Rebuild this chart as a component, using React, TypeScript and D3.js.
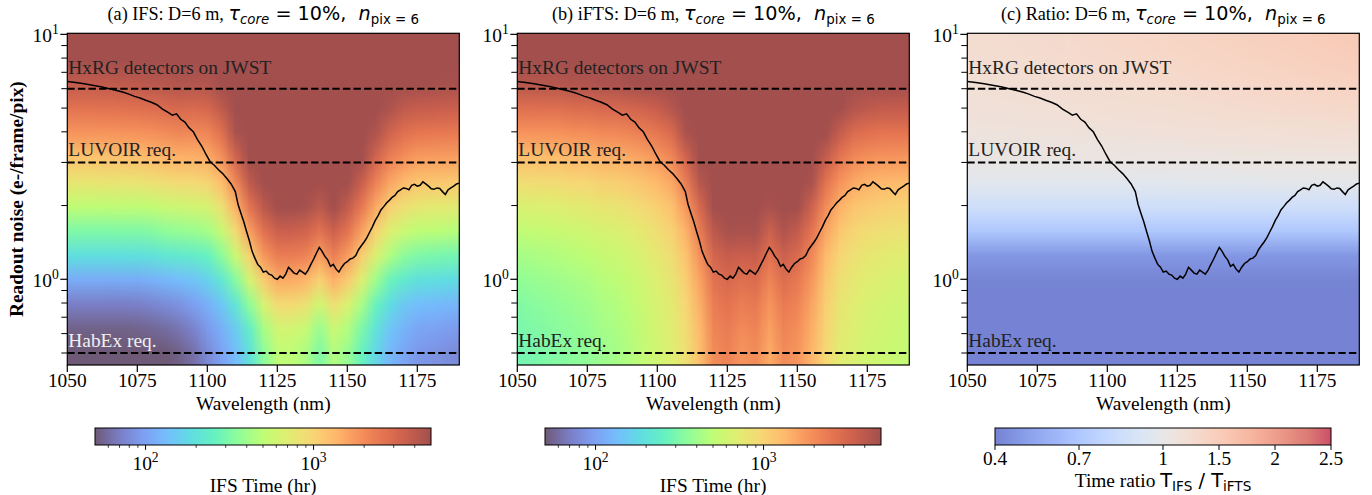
import React, { useMemo } from 'react';
import * as d3 from 'd3';

// ---------------- DATA ----------------
const WAVELENGTH_GRID = [1050, 1055, 1060, 1065, 1070, 1075, 1080, 1085, 1090, 1095, 1100, 1105, 1110, 1115, 1120, 1125, 1130, 1135, 1140, 1145, 1150, 1155, 1160, 1165, 1170, 1175, 1180, 1185, 1190];
const NOISE_GRID = [0.5, 0.63, 0.79, 1.0, 1.26, 1.58, 2.0, 2.51, 3.16, 3.98, 5.01, 6.31, 7.94, 10.0];

// IFS exposure time (hr), one row per wavelength, values along NOISE_GRID
const IFS_TIME = [
  [45, 54, 70, 110, 190, 316, 500, 795, 1200, 1820, 2630, 3800, 5200, 7000],
  [45, 54, 70, 110, 190, 316, 500, 795, 1200, 1820, 2630, 3800, 5200, 7000],
  [45, 54, 70, 110, 190, 316, 500, 795, 1200, 1820, 2630, 3800, 5200, 7000],
  [45, 54, 70, 110, 190, 318, 505, 800, 1210, 1830, 2650, 3830, 5250, 7050],
  [45, 54, 70, 111, 192, 320, 508, 810, 1230, 1850, 2700, 3900, 5300, 7100],
  [46, 55, 72, 112, 195, 320, 505, 810, 1240, 1860, 2720, 3950, 5400, 7300],
  [48, 57, 75, 118, 200, 330, 520, 850, 1320, 1900, 2830, 4100, 5800, 8000],
  [50, 60, 80, 125, 215, 360, 565, 890, 1370, 2000, 2950, 4200, 6000, 8000],
  [54, 65, 86, 132, 224, 375, 585, 930, 1420, 2100, 3050, 4350, 6200, 8000],
  [62, 74, 97, 143, 236, 385, 605, 940, 1430, 2050, 2950, 4300, 6000, 8000],
  [79, 92, 116, 165, 260, 420, 640, 1000, 1500, 2130, 3100, 4300, 6000, 8000],
  [100, 116, 148, 215, 347, 550, 850, 1290, 1900, 2700, 3900, 5400, 8000, 9000],
  [132, 155, 210, 335, 565, 910, 1440, 2130, 3250, 4640, 6900, 9000, 10000, 11000],
  [200, 245, 360, 620, 1030, 1700, 2630, 3970, 6000, 8000, 10000, 12000, 14000, 16000],
  [347, 425, 630, 1080, 1780, 2700, 4000, 6300, 8000, 10000, 12000, 14000, 16000, 18000],
  [500, 610, 920, 1510, 2350, 3470, 5000, 7000, 9000, 11000, 13000, 15000, 17000, 19000],
  [500, 610, 920, 1510, 2350, 3470, 5000, 7000, 9000, 11000, 13000, 15000, 17000, 19000],
  [440, 535, 830, 1370, 2200, 3300, 4800, 6800, 8800, 11000, 13000, 15000, 17000, 19000],
  [316, 385, 585, 1030, 1690, 2650, 4000, 6000, 8000, 10000, 12000, 14000, 16000, 18000],
  [457, 560, 860, 1440, 2290, 3440, 5000, 7000, 9000, 11000, 13000, 15000, 17000, 19000],
  [380, 460, 660, 1100, 1710, 2620, 3800, 5600, 8000, 10000, 12000, 14000, 16000, 18000],
  [263, 310, 430, 690, 1080, 1660, 2470, 3560, 5000, 7000, 8500, 10000, 12000, 14000],
  [174, 204, 265, 405, 670, 1010, 1540, 2250, 3250, 4500, 6500, 8000, 9500, 11000],
  [126, 145, 187, 272, 450, 690, 1040, 1600, 2290, 3300, 4550, 6500, 8000, 9000],
  [105, 120, 150, 223, 355, 565, 870, 1320, 1930, 2740, 3900, 5400, 7500, 8500],
  [91, 105, 135, 195, 316, 500, 775, 1180, 1720, 2510, 3650, 5000, 7000, 8500],
  [87, 100, 130, 190, 305, 490, 760, 1160, 1700, 2470, 3600, 4900, 6800, 8400],
  [83, 96, 126, 185, 298, 480, 745, 1140, 1680, 2440, 3550, 4800, 6700, 8300],
  [79, 92, 122, 180, 290, 470, 730, 1120, 1660, 2420, 3500, 4750, 6600, 8200],
];

// iFTS exposure time (hr)
const IFTS_TIME = [
  [288, 302, 325, 362, 420, 511, 657, 887, 1250, 1830, 2750, 4200, 6500, 10000],
  [302, 316, 339, 376, 433, 525, 670, 900, 1260, 1840, 2750, 4200, 6500, 10000],
  [316, 330, 353, 390, 447, 538, 683, 912, 1280, 1850, 2760, 4200, 6500, 10000],
  [331, 346, 368, 405, 462, 553, 697, 925, 1290, 1860, 2770, 4210, 6500, 10000],
  [347, 362, 386, 424, 484, 579, 729, 968, 1350, 1940, 2890, 4400, 6800, 10500],
  [363, 378, 402, 440, 499, 594, 744, 981, 1360, 1950, 2900, 4400, 6800, 10500],
  [398, 414, 438, 477, 539, 638, 793, 1040, 1430, 2050, 3030, 4590, 7050, 11000],
  [417, 433, 457, 496, 558, 656, 811, 1060, 1450, 2060, 3040, 4590, 7050, 11000],
  [457, 473, 499, 539, 603, 705, 866, 1120, 1530, 2170, 3180, 4790, 7350, 11400],
  [525, 542, 568, 610, 676, 781, 947, 1210, 1630, 2290, 3340, 5000, 7630, 11800],
  [600, 618, 647, 692, 763, 876, 1060, 1340, 1790, 2510, 3640, 5430, 8270, 12800],
  [692, 713, 747, 800, 884, 1020, 1230, 1560, 2090, 2940, 4270, 6380, 9730, 15000],
  [870, 906, 962, 1050, 1190, 1420, 1770, 2330, 3220, 4630, 6860, 10400, 16000, 24900],
  [1260, 1330, 1450, 1620, 1910, 2360, 3070, 4210, 6000, 8850, 13400, 20500, 31800, 49800],
  [2000, 2130, 2340, 2670, 3190, 4010, 5310, 7380, 10700, 15900, 24100, 37100, 57800, 90500],
  [2190, 2360, 2620, 3030, 3690, 4730, 6380, 9000, 13200, 19700, 30100, 46700, 72800, 114000],
  [1820, 2010, 2310, 2770, 3520, 4700, 6570, 9530, 14200, 21700, 33500, 52100, 81800, 128700],
  [2000, 2180, 2460, 2900, 3600, 4710, 6480, 9270, 13700, 20700, 31800, 49500, 77400, 121700],
  [1510, 1640, 1830, 2150, 2640, 3430, 4670, 6640, 9770, 14700, 22600, 35000, 54700, 86000],
  [2000, 2160, 2410, 2810, 3450, 4450, 6040, 8560, 12600, 18900, 28900, 44800, 70100, 110000],
  [1820, 1950, 2150, 2460, 2960, 3750, 5000, 6990, 10100, 15100, 23000, 35500, 55400, 86900],
  [1380, 1460, 1590, 1790, 2100, 2610, 3410, 4670, 6670, 9850, 14900, 22900, 35500, 55500],
  [955, 997, 1060, 1170, 1330, 1600, 2010, 2680, 3720, 5380, 8020, 12200, 18800, 29300],
  [725, 753, 797, 866, 976, 1150, 1430, 1860, 2560, 3660, 5400, 8160, 12500, 19500],
  [660, 682, 715, 769, 853, 988, 1200, 1540, 2070, 2920, 4260, 6390, 9770, 15100],
  [600, 620, 651, 700, 779, 903, 1100, 1410, 1910, 2690, 3930, 5900, 9020, 14000],
  [575, 594, 624, 671, 746, 865, 1050, 1350, 1830, 2580, 3770, 5660, 8650, 13400],
  [550, 569, 599, 647, 722, 842, 1030, 1330, 1810, 2570, 3760, 5660, 8670, 13400],
  [525, 544, 574, 622, 698, 819, 1010, 1310, 1790, 2550, 3760, 5660, 8690, 13500],
];

// Time ratio T_IFS / T_iFTS on a coarser wavelength grid
const RATIO_WAVELENGTHS = [1050, 1085, 1120, 1155, 1190];
const TIME_RATIO = [
  [0.38, 0.38, 0.39, 0.41, 0.48, 0.70, 0.86, 0.97, 1.05, 1.11, 1.16, 1.20, 1.23, 1.25],
  [0.38, 0.38, 0.39, 0.41, 0.48, 0.70, 0.86, 0.97, 1.06, 1.13, 1.19, 1.24, 1.28, 1.30],
  [0.38, 0.38, 0.39, 0.41, 0.48, 0.70, 0.86, 0.97, 1.07, 1.16, 1.23, 1.29, 1.34, 1.37],
  [0.38, 0.38, 0.39, 0.41, 0.48, 0.70, 0.86, 0.98, 1.09, 1.19, 1.28, 1.35, 1.41, 1.45],
  [0.38, 0.38, 0.39, 0.41, 0.48, 0.70, 0.86, 0.98, 1.10, 1.22, 1.33, 1.42, 1.49, 1.54],
];

// Black curve
const CURVE_WL = [1050, 1053, 1056, 1059, 1062, 1065, 1068, 1070, 1072, 1074, 1076, 1078, 1080, 1082, 1084, 1086, 1087.5, 1089, 1090.5, 1092, 1093.5, 1095, 1096.5, 1098, 1099.5, 1101, 1102.5, 1104, 1105.5, 1107, 1108.5, 1110, 1111, 1112, 1113, 1114, 1115, 1116, 1117, 1118, 1119, 1120, 1121, 1122, 1123, 1124, 1125, 1126, 1127, 1128, 1129, 1130, 1131, 1132, 1133, 1134, 1135, 1136, 1137, 1138, 1139, 1140, 1141, 1142, 1143, 1144, 1145, 1146, 1147, 1148, 1149, 1150, 1151, 1152, 1153, 1154, 1155, 1156, 1157, 1158, 1159, 1160, 1161, 1162, 1163, 1164, 1165, 1166, 1167, 1168, 1169, 1170, 1171, 1172, 1173, 1174, 1175, 1176, 1177, 1178, 1179, 1180, 1181, 1182, 1183, 1184, 1185, 1186, 1187, 1188, 1189, 1190];
const CURVE_NOISE = [6.42, 6.36, 6.28, 6.2, 6.11, 6.0, 5.89, 5.8, 5.7, 5.58, 5.5, 5.38, 5.28, 5.16, 4.95, 4.8, 4.68, 4.74, 4.5, 4.38, 4.15, 4.0, 3.72, 3.5, 3.24, 3.02, 2.92, 2.8, 2.7, 2.58, 2.45, 2.28, 2.02, 1.86, 1.72, 1.57, 1.44, 1.3, 1.22, 1.15, 1.12, 1.07, 1.08, 1.05, 1.04, 1.01, 1.0, 1.03, 1.01, 1.05, 1.12, 1.09, 1.06, 1.05, 1.09, 1.07, 1.05, 1.09, 1.15, 1.21, 1.28, 1.35, 1.3, 1.24, 1.2, 1.13, 1.15, 1.1, 1.07, 1.12, 1.16, 1.18, 1.21, 1.22, 1.25, 1.32, 1.37, 1.42, 1.48, 1.56, 1.64, 1.74, 1.82, 1.92, 1.98, 2.05, 2.1, 2.16, 2.2, 2.28, 2.32, 2.36, 2.35, 2.32, 2.42, 2.44, 2.4, 2.42, 2.5, 2.45, 2.4, 2.34, 2.33, 2.36, 2.35, 2.28, 2.22, 2.32, 2.36, 2.4, 2.45, 2.47];

const REQ_LABELS = ['HxRG detectors on JWST', 'LUVOIR req.', 'HabEx req.'];
const REQ_NOISE = [6, 3, 0.5];
const REQ_LABEL_NOISE = [6.87, 3.2, 0.527];

const X_TICKS = [1050, 1075, 1100, 1125, 1150, 1175];
const Y_MAJOR = [1, 10];
const Y_MAJOR_EXP = ['0', '1'];
const Y_MINOR = [0.5, 0.6, 0.7, 0.8, 0.9, 2, 3, 4, 5, 6, 7, 8, 9];

const TIME_CB_MAJOR = [100, 1000];
const TIME_CB_MAJOR_EXP = ['2', '3'];
const TIME_CB_MINOR = [60, 70, 80, 90, 200, 300, 400, 500, 600, 700, 800, 900, 2000, 3000, 4000];
const RATIO_CB_TICKS = [0.4, 0.7, 1, 1.5, 2, 2.5];
const RATIO_CB_LABELS = ['0.4', '0.7', '1', '1.5', '2', '2.5'];

const PANEL_PREFIX = ['(a) IFS: D=6 m, ', '(b) iFTS: D=6 m, ', '(c) Ratio: D=6 m, '];

// ---------------- STYLE / LAYOUT ----------------
const W = 1372;
const H = 495;
const LEFTS = [67.3, 517.3, 967.3];
const PW = 392;
const TOP = 33.3;
const BOTTOM = 365;
const SERIF = 'Liberation Serif, Times New Roman, serif';
const SANS = 'DejaVu Sans, sans-serif';
const FS = 19.4;
const TITLE_SERIF_FS = 18.2;
const TITLE_MATH_FS = 19.2;
const TITLE_SUB_FS = 13.4;
const REQ_TEXT_COLOR = [['#222', '#222', '#f0f0f0'], ['#222', '#222', '#222'], ['#222', '#222', '#222']];

// turbo key colors (matplotlib)
const TURBO = ['#30123b', '#4145ab', '#4675ed', '#39a2fc', '#1bcfd4', '#24eca6', '#61fc6c', '#a4fc3b', '#d1e834', '#f3c63a', '#fe9b2d', '#f36315', '#d93806', '#b11901', '#7a0402'];
// coolwarm key colors (matplotlib)
const COOLWARM = ['#3b4cc0', '#4d68d7', '#6282ea', '#779af7', '#8db0fe', '#a3c2fe', '#b8d0f9', '#cbdaf0', '#dddddd', '#ecd3c5', '#f4c4ad', '#f7b194', '#f49a7b', '#ec7f63', '#de604d', '#cb3e38', '#b40426'];

const blend = (c: string) => {
  const r = d3.rgb(c);
  return d3.rgb(0.7 * r.r + 0.3 * 255, 0.7 * r.g + 0.3 * 255, 0.7 * r.b + 0.3 * 255);
};

const turboScale = d3.scaleLinear<string>()
  .domain(TURBO.map((_, i) => i / (TURBO.length - 1)))
  .range(TURBO)
  .interpolate(d3.interpolateRgb)
  .clamp(true);
const timeNorm = d3.scaleLog().domain([50, 5000]).range([0, 1]).clamp(true);
const turboColor = (t: number) => blend(turboScale(t));
const timeColor = (v: number) => turboColor(timeNorm(v));

const coolwarmScale = d3.scaleLinear<string>()
  .domain(COOLWARM.map((_, i) => i / (COOLWARM.length - 1)))
  .range(COOLWARM)
  .interpolate(d3.interpolateRgb)
  .clamp(true);
const ratioNorm = d3.scaleLinear().domain([0.4, 1, 2.5]).range([0, 0.5, 1]).clamp(true);
const coolColor = (n: number) => blend(coolwarmScale(n));
const ratioColor = (v: number) => coolColor(ratioNorm(v));

function HeatImage({ grid, wl, noise, colorFn, x, y }: any) {
  const href = useMemo(() => {
    const nx = wl.length;
    const ny = noise.length;
    const canvas = document.createElement('canvas');
    canvas.width = nx;
    canvas.height = ny;
    const ctx = canvas.getContext('2d')!;
    const img = ctx.createImageData(nx, ny);
    for (let i = 0; i < nx; i++) {
      for (let j = 0; j < ny; j++) {
        const c = colorFn(grid[i][ny - 1 - j]);
        const idx = (j * nx + i) * 4;
        img.data[idx] = Math.round(c.r);
        img.data[idx + 1] = Math.round(c.g);
        img.data[idx + 2] = Math.round(c.b);
        img.data[idx + 3] = 255;
      }
    }
    ctx.putImageData(img, 0, 0);
    return canvas.toDataURL();
  }, [grid, wl, noise, colorFn]);
  const dx = wl[1] - wl[0];
  const x0 = x(wl[0] - dx / 2);
  const x1 = x(wl[wl.length - 1] + dx / 2);
  const lr0 = Math.log10(noise[0]);
  const lr1 = Math.log10(noise[noise.length - 1]);
  const dr = (lr1 - lr0) / (noise.length - 1);
  const yT = y(Math.pow(10, lr1 + dr / 2));
  const yB = y(Math.pow(10, lr0 - dr / 2));
  return <image href={href} x={x0} y={yT} width={x1 - x0} height={yB - yT} preserveAspectRatio="none" />;
}

function Panel({ idx }: { idx: number }) {
  const left = LEFTS[idx];
  const x = d3.scaleLinear().domain([1050, 1190]).range([left, left + PW]);
  const y = d3.scaleLog().domain([0.4467, 10.1]).range([BOTTOM, TOP]);
  const cx = left + PW / 2;
  const line = d3.line<number>().x((_, i) => x(CURVE_WL[i])).y((v) => y(v));
  const clipId = `clip${idx}`;
  let heat;
  if (idx === 0) heat = <HeatImage grid={IFS_TIME} wl={WAVELENGTH_GRID} noise={NOISE_GRID} colorFn={timeColor} x={x} y={y} />;
  else if (idx === 1) heat = <HeatImage grid={IFTS_TIME} wl={WAVELENGTH_GRID} noise={NOISE_GRID} colorFn={timeColor} x={x} y={y} />;
  else heat = <HeatImage grid={TIME_RATIO} wl={RATIO_WAVELENGTHS} noise={NOISE_GRID} colorFn={ratioColor} x={x} y={y} />;

  return (
    <g>
      <defs>
        <clipPath id={clipId}>
          <rect x={left} y={TOP} width={PW} height={BOTTOM - TOP} />
        </clipPath>
      </defs>
      <g clipPath={`url(#${clipId})`}>
        {heat}
        {REQ_NOISE.map((v, i) => (
          <line key={i} x1={left} x2={left + PW} y1={y(v)} y2={y(v)} stroke="#000" strokeWidth={2} strokeDasharray="7.4,3.2" />
        ))}
        <path d={line(CURVE_NOISE) || ''} fill="none" stroke="#000" strokeWidth={1.5} />
      </g>
      {REQ_LABELS.map((t, i) => (
        <text key={i} x={left + 1} y={y(REQ_LABEL_NOISE[i])} fontFamily={SERIF} fontSize={FS} fill={REQ_TEXT_COLOR[idx][i]}>{t}</text>
      ))}
      <rect x={left} y={TOP} width={PW} height={BOTTOM - TOP} fill="none" stroke="#000" strokeWidth={1.2} />
      {/* x ticks */}
      {X_TICKS.map((t) => (
        <g key={t}>
          <line x1={x(t)} x2={x(t)} y1={BOTTOM} y2={BOTTOM + 7} stroke="#000" strokeWidth={1.2} />
          <text x={x(t)} y={BOTTOM + 22.3} textAnchor="middle" fontFamily={SERIF} fontSize={FS}>{t}</text>
        </g>
      ))}
      <text x={cx} y={409.5} textAnchor="middle" fontFamily={SERIF} fontSize={FS}>Wavelength (nm)</text>
      {/* y ticks */}
      {Y_MINOR.map((t) => (
        <line key={t} x1={left - 6} x2={left} y1={y(t)} y2={y(t)} stroke="#000" strokeWidth={1} />
      ))}
      {Y_MAJOR.map((t, i) => (
        <g key={t}>
          <line x1={left - 7} x2={left} y1={y(t)} y2={y(t)} stroke="#000" strokeWidth={1.2} />
          <text x={left - 8.5} y={y(t) + 8} textAnchor="end" fontFamily={SERIF} fontSize={FS}>
            10<tspan fontSize={13.6} dy={-8.5}>{Y_MAJOR_EXP[i]}</tspan>
          </text>
        </g>
      ))}
      {/* title */}
      <text x={cx} y={20} textAnchor="middle" style={{ whiteSpace: 'pre' }} fontSize={TITLE_MATH_FS}>
        <tspan fontFamily={SERIF} fontSize={TITLE_SERIF_FS}>{PANEL_PREFIX[idx]}</tspan>
        <tspan fontFamily={SANS} fontStyle="italic">τ</tspan>
        <tspan fontFamily={SANS} fontStyle="italic" fontSize={TITLE_SUB_FS} dy={3.5}>core</tspan>
        <tspan fontFamily={SANS} dy={-3.5}>{' = 10%,  '}</tspan>
        <tspan fontFamily={SANS} fontStyle="italic">n</tspan>
        <tspan fontFamily={SANS} fontSize={TITLE_SUB_FS} dy={3.5}>{'pix = 6'}</tspan>
      </text>
      <Colorbar idx={idx} left={left + 27.7} />
    </g>
  );
}

function Colorbar({ idx, left }: { idx: number; left: number }) {
  const w = 336;
  const top = 428;
  const h = 17;
  const gid = `cbg${idx}`;
  const stops = d3.range(0, 1.0001, 0.02);
  if (idx < 2) {
    const s = d3.scaleLog().domain([50, 5000]).range([left, left + w]);
    return (
      <g>
        <defs>
          <linearGradient id={gid} x1="0" x2="1" y1="0" y2="0">
            {stops.map((t) => <stop key={t} offset={t} stopColor={turboColor(t).formatHex()} />)}
          </linearGradient>
        </defs>
        <rect x={left} y={top} width={w} height={h} fill={`url(#${gid})`} stroke="#000" strokeWidth={1} />
        {TIME_CB_MINOR.map((t) => (
          <line key={t} x1={s(t)} x2={s(t)} y1={top + h} y2={top + h + 2.8} stroke="#000" strokeWidth={0.8} />
        ))}
        {TIME_CB_MAJOR.map((t, i) => (
          <g key={t}>
            <line x1={s(t)} x2={s(t)} y1={top + h} y2={top + h + 4.9} stroke="#000" strokeWidth={1} />
            <text x={s(t)} y={470} textAnchor="middle" fontFamily={SERIF} fontSize={FS}>
              10<tspan fontSize={13.6} dy={-8.5}>{TIME_CB_MAJOR_EXP[i]}</tspan>
            </text>
          </g>
        ))}
        <text x={left + w / 2} y={492} textAnchor="middle" fontFamily={SERIF} fontSize={FS}>IFS Time (hr)</text>
      </g>
    );
  }
  const s = d3.scaleLinear().domain([0.4, 1, 2.5]).range([left, left + w / 2, left + w]);
  return (
    <g>
      <defs>
        <linearGradient id={gid} x1="0" x2="1" y1="0" y2="0">
          {stops.map((t) => <stop key={t} offset={t} stopColor={coolColor(t).formatHex()} />)}
        </linearGradient>
      </defs>
      <rect x={left} y={top} width={w} height={h} fill={`url(#${gid})`} stroke="#000" strokeWidth={1} />
      {RATIO_CB_TICKS.map((t, i) => (
        <g key={t}>
          <line x1={s(t)} x2={s(t)} y1={top + h} y2={top + h + 4.9} stroke="#000" strokeWidth={1} />
          <text x={s(t)} y={465} textAnchor="middle" fontFamily={SERIF} fontSize={FS}>{RATIO_CB_LABELS[i]}</text>
        </g>
      ))}
      <text x={left + w / 2} y={486.5} textAnchor="middle" style={{ whiteSpace: 'pre' }} fontSize={FS}>
        <tspan fontFamily={SERIF}>{'Time ratio '}</tspan>
        <tspan fontFamily={SANS}>T</tspan>
        <tspan fontFamily={SANS} fontSize={13.6} dy={4}>IFS</tspan>
        <tspan fontFamily={SANS} dy={-4}>{' / T'}</tspan>
        <tspan fontFamily={SANS} fontSize={13.6} dy={4}>iFTS</tspan>
      </text>
    </g>
  );
}

export default function App() {
  return (
    <svg width={W} height={H} viewBox={`0 0 ${W} ${H}`} style={{ position: 'absolute', left: 0, top: 0, background: '#fff' }}>
      <rect x={0} y={0} width={W} height={H} fill="#fff" />
      {[0, 1, 2].map((i) => <Panel key={i} idx={i} />)}
      <text transform={`translate(22.5, ${(TOP + BOTTOM) / 2}) rotate(-90)`} textAnchor="middle" fontFamily={SERIF} fontWeight="bold" fontSize={FS}>
        Readout noise (e-/frame/pix)
      </text>
    </svg>
  );
}
